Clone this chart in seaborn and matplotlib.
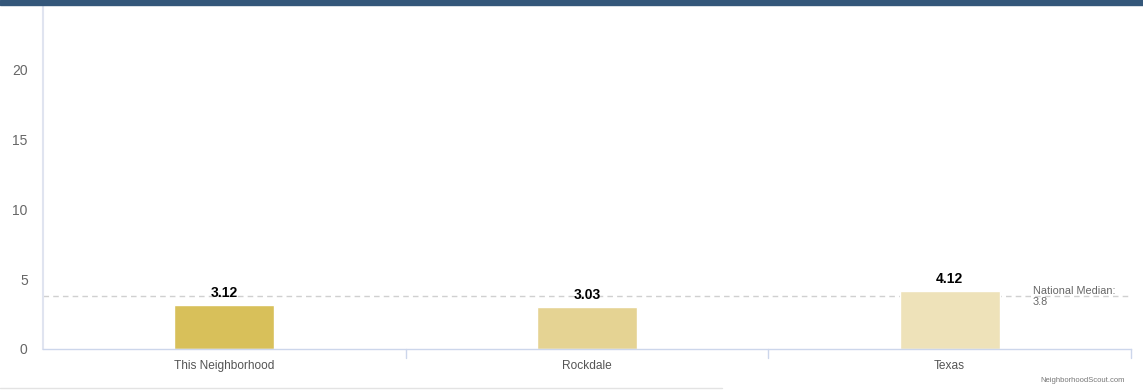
import matplotlib
matplotlib.use('Agg')
import matplotlib.pyplot as plt
import seaborn as sns
import pandas as pd

categories = ['This Neighborhood', 'Rockdale', 'Texas']
values = [3.12, 3.03, 4.12]
bar_colors = ['#D8C05A', '#E5D393', '#EEE2B9']
national_median = 3.8
y_ticks = [0, 5, 10, 15, 20]

sns.set_style('white')
plt.rcParams['font.family'] = ['Liberation Sans', 'DejaVu Sans']

df = pd.DataFrame({'area': categories, 'value': values})

fig = plt.figure(figsize=(11.43, 3.9), dpi=100)
ax = fig.add_axes([43 / 1143, 1 - 349 / 390, 1088 / 1143, 344 / 390])

sns.barplot(data=df, x='area', y='value', hue='area', palette=bar_colors,
            width=0.275, legend=False, ax=ax, saturation=1)

ax.set_ylim(0, 24.6)
ax.set_xlim(-0.5, 2.5)
ax.set_yticks(y_ticks)
ax.set_xlabel('')
ax.set_ylabel('')

# national median reference line
ax.axhline(national_median, color='#d0d0d0', linestyle=(0, (4, 3)), linewidth=1, zorder=0)
ax.text(2.23, national_median - 0.05, 'National Median:\n3.8', fontsize=7.8, color='#666666',
        va='center', ha='left', linespacing=1.1)

# value labels
for i, v in enumerate(values):
    ax.text(i, v + 0.35, f'{v:.2f}', ha='center', va='bottom', fontsize=10,
            fontweight='bold', color='#000000')

for side in ['top', 'right']:
    ax.spines[side].set_visible(False)
ax.spines['left'].set_color('#e0e4f0')
ax.spines['left'].set_linewidth(1.5)
ax.spines['bottom'].set_color('#ccd6eb')
ax.spines['bottom'].set_linewidth(1)

ax.tick_params(axis='y', length=0, labelsize=10, labelcolor='#666666', pad=11)
ax.tick_params(axis='x', length=0, labelsize=8.6, labelcolor='#555555', pad=8)

# category divider ticks below the axis
for xpos in [0.5, 1.5, 2.5]:
    ax.plot([xpos, xpos], [0, -9 / 344], transform=ax.get_xaxis_transform(), color='#ccd6eb',
            linewidth=1, clip_on=False)

# top dark band and bottom light rule
fig.patches.append(plt.Rectangle((0, 1 - 5 / 390), 1, 5 / 390, transform=fig.transFigure,
                                 color='#34577a', zorder=5))
fig.add_artist(plt.Line2D([0, 722 / 1143], [1 - 388 / 390] * 2, transform=fig.transFigure,
                          color='#e3e3e3', linewidth=1))

fig.text(1040 / 1143, 1 - 380 / 390, 'NeighborhoodScout.com', fontsize=5.5, color='#777777',
         ha='left', va='center')

fig.savefig('out.png', dpi=100)
